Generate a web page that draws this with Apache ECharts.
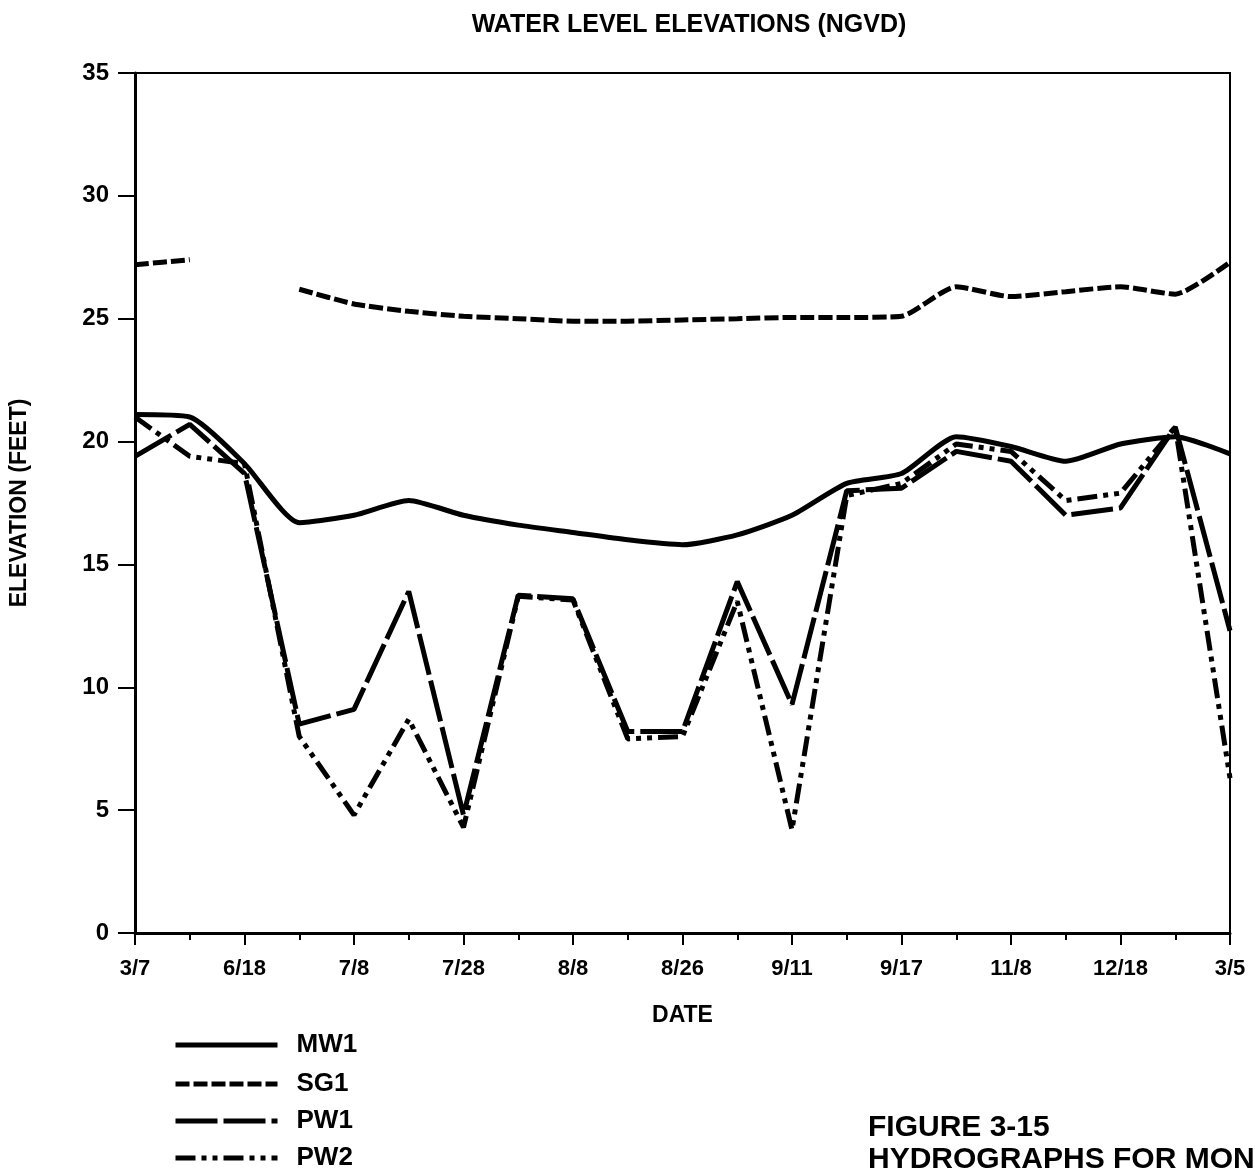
<!DOCTYPE html>
<html>
<head>
<meta charset="utf-8">
<script src="https://cdn.jsdelivr.net/npm/echarts@6/dist/echarts.min.js"></script>
<style>
html,body{margin:0;padding:0;background:#fff;}
#chart{width:1255px;height:1173px;}
</style>
</head>
<body>
<div id="chart"></div>
<script>
// Sampling dates (only every other one is labelled on the axis)
var dates = ['3/7','','6/18','','7/8','','7/28','','8/8','','8/26','','9/11','','9/17','','11/8','','12/18','','3/5'];
var seriesNames = ['MW1','SG1','PW1','PW2'];
var mw1 = [21.1, 21.0, 19.1, 16.7, 17.0, 17.6, 17.0, 16.6, 16.3, 16.0, 15.8, 16.2, 17.0, 18.3, 18.7, 20.2, 19.8, 19.2, 19.9, 20.2, 19.5];
var sg1 = [27.2, 27.4, null, 26.2, 25.6, 25.3, 25.1, 25.0, 24.9, 24.9, 24.95, 25.0, 25.05, 25.05, 25.1, 26.3, 25.9, 26.1, 26.3, 26.0, 27.3];
var pw1 = [19.4, 20.7, 18.7, 8.5, 9.1, 13.9, 4.8, 13.75, 13.6, 8.2, 8.2, 14.3, 9.3, 18.0, 18.1, 19.6, 19.2, 17.0, 17.3, 20.6, 12.3];
var pw2 = [21.0, 19.4, 19.1, 8.0, 4.8, 8.7, 4.3, 13.7, 13.55, 7.9, 8.0, 13.5, 4.2, 17.8, 18.3, 19.9, 19.6, 17.6, 17.9, 20.6, 6.3];
var yTicks = [0, 5, 10, 15, 20, 25, 30, 35];

var FONT = "'Liberation Sans', Arial, Helvetica, sans-serif";
function pairs(arr){ return arr.map(function(v,i){ return [i, v]; }); }

var legendTops = [1032, 1071, 1108, 1145];
var legends = seriesNames.map(function(n, i){
  return {
    orient:'vertical', left:173, top:legendTops[i], itemWidth:102, itemHeight:22,
    padding:0,
    data:[n],
    selectedMode:false,
    itemStyle:{opacity:0},
    lineStyle:{width:5},
    textStyle:{fontFamily:FONT, fontWeight:'bold', fontSize:26, color:'#000', padding:[0,0,0,14]}
  };
});

var chart = echarts.init(document.getElementById('chart'), null, {renderer:'canvas'});
var option = {
  backgroundColor:'#ffffff',
  animation:false,
  title:{
    text:'WATER LEVEL ELEVATIONS (NGVD)',
    left:684, top:8, textAlign:'center',
    textStyle:{fontFamily:FONT, fontWeight:'bold', fontSize:25, color:'#000'}
  },
  grid:{left:135, right:25, top:73, bottom:240, show:true, borderColor:'#000', borderWidth:2, backgroundColor:'transparent'},
  xAxis:{
    type:'value', min:0, max:dates.length-1, interval:2,
    name:'DATE', nameLocation:'middle', nameGap:71,
    nameTextStyle:{fontFamily:FONT, fontWeight:'bold', fontSize:23, color:'#000'},
    axisLine:{show:true, lineStyle:{color:'#000', width:3}},
    axisTick:{show:true, inside:false, length:12, lineStyle:{color:'#000', width:2}},
    minorTick:{show:true, splitNumber:2, length:7, lineStyle:{color:'#000', width:2}},
    splitLine:{show:false}, minorSplitLine:{show:false},
    axisLabel:{margin:25, fontFamily:FONT, fontWeight:'bold', fontSize:22, color:'#000',
      formatter:function(v){ return dates[Math.round(v)] || ''; }}
  },
  yAxis:{
    type:'value', min:yTicks[0], max:yTicks[yTicks.length-1], interval:5,
    name:'ELEVATION (FEET)', nameLocation:'middle', nameGap:104, nameRotate:90,
    nameTextStyle:{fontFamily:FONT, fontWeight:'bold', fontSize:23, color:'#000'},
    axisLine:{show:true, lineStyle:{color:'#000', width:3}},
    axisTick:{show:true, inside:false, length:17, lineStyle:{color:'#000', width:2}},
    splitLine:{show:false},
    axisLabel:{margin:26, fontFamily:FONT, fontWeight:'bold', fontSize:24, color:'#000'}
  },
  legend:legends,
  graphic:[
    {type:'text', left:868, top:1113, style:{text:'FIGURE 3-15', font:"bold 30px 'Liberation Sans', Arial, sans-serif", fill:'#000'}},
    {type:'text', left:868, top:1145, style:{text:'HYDROGRAPHS FOR MON', font:"bold 30px 'Liberation Sans', Arial, sans-serif", fill:'#000'}}
  ],
  series:[
    {name:seriesNames[0], type:'line', data:pairs(mw1), symbol:'none', smooth:0.2,
     lineStyle:{color:'#000', width:5, type:'solid'}, itemStyle:{color:'#000'}},
    {name:seriesNames[1], type:'line', data:pairs(sg1), symbol:'none', smooth:0.2, connectNulls:false,
     lineStyle:{color:'#000', width:5, type:[14,4]}, itemStyle:{color:'#000'}},
    {name:seriesNames[2], type:'line', data:pairs(pw1), symbol:'none',
     lineStyle:{color:'#000', width:5, type:[42,6]}, itemStyle:{color:'#000'}},
    {name:seriesNames[3], type:'line', data:pairs(pw2), symbol:'none',
     lineStyle:{color:'#000', width:5, type:[20,6,5,6,5,6]}, itemStyle:{color:'#000'}}
  ]
};
chart.setOption(option);
</script>
</body>
</html>
